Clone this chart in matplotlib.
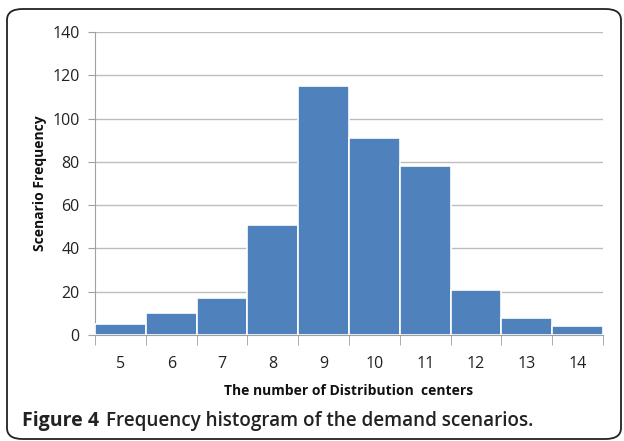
import matplotlib
matplotlib.use("Agg")
import matplotlib.pyplot as plt
from matplotlib.patches import FancyBboxPatch
import numpy as np

categories = [5, 6, 7, 8, 9, 10, 11, 12, 13, 14]
frequency = [5, 10, 17, 51, 115, 91, 78, 21, 8, 4]
yticks = [0, 20, 40, 60, 80, 100, 120, 140]

plt.rcParams['font.family'] = ['Open Sans', 'DejaVu Sans']

fig = plt.figure(figsize=(6.24, 4.41), dpi=100)
W, H = 624, 441

# rounded border
border = FancyBboxPatch((7 / W, 2 / H), (621 - 7) / W, (432 - 2) / H,
                        boxstyle="round,pad=0,rounding_size=0.025",
                        transform=fig.transFigure, fill=False,
                        edgecolor='#222222', linewidth=1.3)
fig.patches.append(border)

ax = fig.add_axes([95 / W, (H - 335) / H, (603 - 95) / W, (335 - 32) / H])
x = np.arange(len(categories))
ax.bar(x, frequency, width=1.0, color='#4F81BD', edgecolor='white', linewidth=1.2, zorder=3)
ax.set_xlim(-0.5, len(categories) - 0.5)
ax.set_ylim(0, 140)
ax.set_yticks(yticks)
ax.set_yticklabels([str(v) for v in yticks], fontsize=11.5, color='#222222')
ax.yaxis.grid(True, color='#BDBDBD', linewidth=1.0, zorder=0)
ax.set_axisbelow(True)

ax.set_xticks(x)
ax.set_xticklabels([str(c) for c in categories], fontsize=11.5, color='#222222')
ax.set_xticks(np.arange(-0.5, len(categories), 1.0), minor=True)
ax.tick_params(axis='x', which='major', length=0, pad=15)
ax.tick_params(axis='x', which='minor', length=7, color='#A0A0A0', direction='out')
ax.tick_params(axis='y', length=5, color='#A0A0A0', pad=6)

for s in ['top', 'right']:
    ax.spines[s].set_visible(False)
ax.spines['left'].set_color('#A0A0A0')
ax.spines['bottom'].set_color('#A0A0A0')

ax.set_ylabel('Scenario Frequency', fontsize=10, fontweight='bold', labelpad=4, color='#111111')
ax.set_xlabel('The number of Distribution  centers', fontsize=10, fontweight='bold', labelpad=9, color='#111111')

fig.text(22 / W, 1 - 421 / H, 'Figure 4', fontsize=14, fontweight='bold', va='center', ha='left', color='#222222')
fig.text(106 / W, 1 - 421 / H, 'Frequency histogram of the demand scenarios.', fontsize=13.6,
         fontweight='semibold', va='center', ha='left', color='#222222')

fig.savefig('out.png', dpi=100)
